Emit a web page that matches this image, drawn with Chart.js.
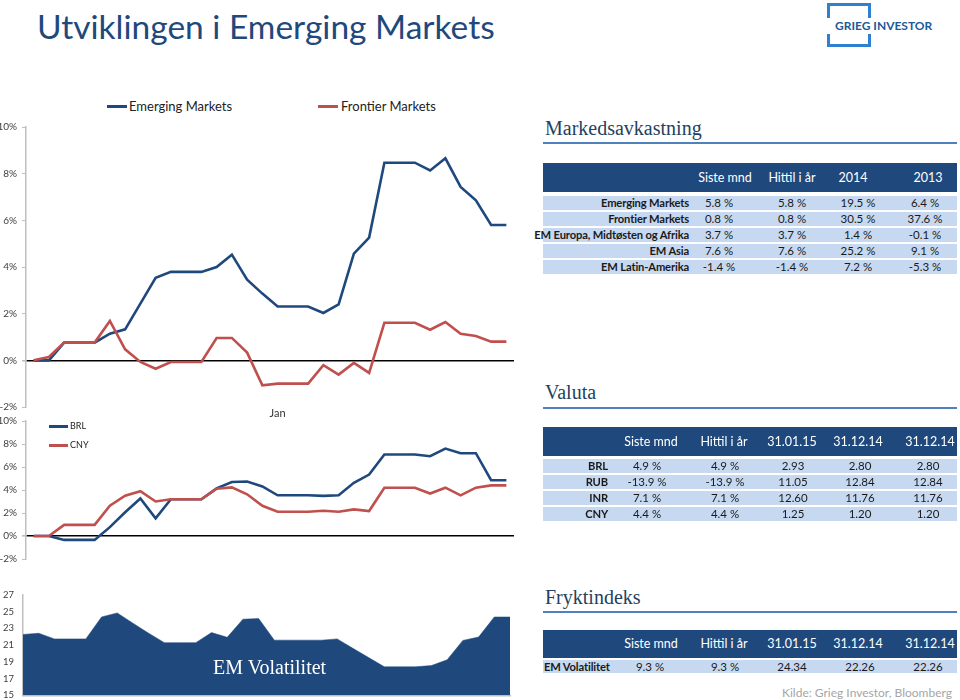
<!DOCTYPE html>
<html lang="no">
<head>
<meta charset="utf-8">
<script src="https://cdn.jsdelivr.net/npm/chart.js@4.4.1/dist/chart.umd.min.js"></script>
<style>
  html, body { margin: 0; padding: 0; background: #fff; }
  body { width: 960px; height: 700px; overflow: hidden; position: relative; font-family: Lato, 'Open Sans', sans-serif; color: #1a1a1a; }
  .abs { position: absolute; white-space: nowrap; }
  canvas { position: absolute; left: 0; }
  #tittel { left: 37px; top: 5px; font-size: 33.5px; color: #1f497d; line-height: 42px; }
  .overskrift { font-family: 'Liberation Serif', 'DejaVu Serif', serif; font-size: 20px; color: #243f60; line-height: 24px; left: 545px; }
  .strek { left: 543px; width: 414px; height: 2px; background: #4f81bd; }
  .hode { left: 543px; width: 414px; background: #1f497d; }
  .rad { left: 543px; width: 414px; background: #c6d9f1; }
  .celle { width: 100px; text-align: center; font-size: 11.5px; }
  .hodecelle { color: #fff; font-size: 12.5px; }
  .etikett { font-weight: bold; font-size: 11.2px; letter-spacing: -0.15px; text-align: right; width: 160px; }
  .leg-strek { height: 3px; }
</style>
</head>
<body>
<div id="tittel" class="abs">Utviklingen i Emerging Markets</div>

<!-- logo -->
<div class="abs" style="left:827px;top:3px;width:38px;height:38px;border:3px solid #2f80d0;"></div>
<div class="abs" style="left:827px;top:18px;padding:0 3px 0 8px;background:#fff;font-weight:bold;font-size:12px;line-height:16px;color:#1c5a98;">GRIEG INVESTOR</div>

<canvas id="grafMarked" width="520" height="305" style="top:116px"></canvas>
<canvas id="grafValuta" width="520" height="160" style="top:410px"></canvas>
<canvas id="grafVol" width="520" height="130" style="top:580px"></canvas>

<div id="tekster"></div>

<script>
// ── Data (31.12.14 – 31.01.15, daglig) ─────────────────────────
const dager = ['31.12','01.01','02.01','03.01','04.01','05.01','06.01','07.01','08.01','09.01',
  '10.01','11.01','12.01','13.01','14.01','15.01','16.01','17.01','18.01','19.01','20.01',
  '21.01','22.01','23.01','24.01','25.01','26.01','27.01','28.01','29.01','30.01','31.01'];
const maanedEtikett = 'Jan';
const maanedIndeks = 16;

const emergingMarkets = [0, 0, 0.76, 0.76, 0.76, 1.14, 1.33, 2.43, 3.54, 3.79, 3.79, 3.79, 4.0, 4.53, 3.46, 2.86,
  2.31, 2.31, 2.31, 2.03, 2.4, 4.57, 5.26, 8.47, 8.47, 8.47, 8.14, 8.66, 7.43, 6.86, 5.8, 5.8];
const frontierMarkets = [0, 0.14, 0.76, 0.76, 0.76, 1.69, 0.47, -0.07, -0.36, -0.07, -0.07, -0.07, 0.96, 0.96, 0.33, -1.07,
  -1.0, -1.0, -1.0, -0.21, -0.61, -0.11, -0.54, 1.61, 1.61, 1.61, 1.31, 1.64, 1.14, 1.04, 0.8, 0.8];

const brl = [0, 0, -0.34, -0.34, -0.34, 0.77, 2.06, 3.26, 1.54, 3.2, 3.2, 3.2, 4.14, 4.69, 4.74, 4.31,
  3.54, 3.54, 3.54, 3.49, 3.54, 4.63, 5.34, 7.09, 7.09, 7.09, 6.94, 7.6, 7.2, 7.2, 4.85, 4.85];
const cny = [0, 0, 0.97, 0.97, 0.97, 2.63, 3.51, 3.89, 3.0, 3.2, 3.2, 3.2, 4.11, 4.23, 3.63, 2.63,
  2.11, 2.11, 2.11, 2.2, 2.11, 2.31, 2.17, 4.2, 4.2, 4.2, 3.69, 4.2, 3.54, 4.2, 4.4, 4.4];

const emVolatilitet = [22.26, 22.4, 21.73, 21.73, 21.73, 24.35, 24.83, 23.6, 22.4, 21.28, 21.28, 21.28, 22.48, 21.92, 24.08, 24.15,
  21.58, 21.58, 21.58, 21.58, 21.73, 20.6, 19.5, 18.4, 18.4, 18.4, 18.55, 19.23, 21.55, 21.95, 24.34, 24.34];

const pstTicks = [-2, 10, 2];   // min, max, steg
const volTicks = [15, 27, 2];

// ── Tabeller ──
const markedKolonner = ['Siste mnd', 'Hittil i år', '2014', '2013'];
const markedRader = ['Emerging Markets', 'Frontier Markets', 'EM Europa, Midtøsten og Afrika', 'EM Asia', 'EM Latin-Amerika'];
const markedVerdier = [
  ['5.8 %', '5.8 %', '19.5 %', '6.4 %'],
  ['0.8 %', '0.8 %', '30.5 %', '37.6 %'],
  ['3.7 %', '3.7 %', '1.4 %', '-0.1 %'],
  ['7.6 %', '7.6 %', '25.2 %', '9.1 %'],
  ['-1.4 %', '-1.4 %', '7.2 %', '-5.3 %'],
];
const valutaKolonner = ['Siste mnd', 'Hittil i år', '31.01.15', '31.12.14', '31.12.14'];
const valutaRader = ['BRL', 'RUB', 'INR', 'CNY'];
const valutaVerdier = [
  ['4.9 %', '4.9 %', '2.93', '2.80', '2.80'],
  ['-13.9 %', '-13.9 %', '11.05', '12.84', '12.84'],
  ['7.1 %', '7.1 %', '12.60', '11.76', '11.76'],
  ['4.4 %', '4.4 %', '1.25', '1.20', '1.20'],
];
const fryktRader = ['EM Volatilitet'];
const fryktVerdier = [['9.3 %', '9.3 %', '24.34', '22.26', '22.26']];

const BLA = '#1F497D', ROD = '#C0504D', GRA = '#bfbfbf';

Chart.defaults.font.family = 'Lato';
Chart.defaults.animation = false;

// ── Tekst-elementer (overskrifter, tabeller, legender) ──────────
const wrap = document.getElementById('tekster');
function div(cls, style, txt) {
  const d = document.createElement('div');
  d.className = 'abs ' + cls;
  d.setAttribute('style', style);
  if (txt != null) d.textContent = txt;
  wrap.appendChild(d);
  return d;
}

function seksjon(tittel, y, kol, rader, verdier, oppsett) {
  div('overskrift', `top:${y.tittel - 12}px`, tittel);
  div('strek', `top:${y.strek}px`);
  div('hode', `top:${y.hode}px;height:${y.hodeH}px`);
  kol.forEach((k, i) => div('celle hodecelle',
    `left:${oppsett.hodeX[i] - 50}px;top:${y.hode}px;height:${y.hodeH}px;line-height:${y.hodeH}px`, k));
  rader.forEach((r, ri) => {
    const top = y.rad0 + ri * y.radSteg;
    div('rad', `top:${top}px;height:${y.radH}px`);
    if (oppsett.venstre) div('etikett', `left:544px;text-align:left;top:${top}px;line-height:${y.radH}px`, r);
    else div('etikett', `left:${oppsett.etikettH - 160}px;top:${top}px;line-height:${y.radH}px`, r);
    verdier[ri].forEach((v, ci) => div('celle',
      `left:${oppsett.verdiX[ci] - 50}px;top:${top}px;line-height:${y.radH}px`, v));
  });
}

seksjon('Markedsavkastning', { tittel: 128, strek: 142, hode: 163, hodeH: 29, rad0: 195.5, radSteg: 16, radH: 14 },
  markedKolonner, markedRader, markedVerdier,
  { hodeX: [725, 792, 853, 928], verdiX: [719, 792, 858, 925], etikettH: 689 });
seksjon('Valuta', { tittel: 392, strek: 407, hode: 427, hodeH: 29, rad0: 458.5, radSteg: 16.1, radH: 14.5 },
  valutaKolonner, valutaRader, valutaVerdier,
  { hodeX: [651, 724, 792, 858, 930], verdiX: [647, 725, 793, 860, 928], etikettH: 608 });
seksjon('Fryktindeks', { tittel: 597, strek: 611, hode: 629.5, hodeH: 28, rad0: 659.5, radSteg: 16, radH: 13.5 },
  valutaKolonner, fryktRader, fryktVerdier,
  { hodeX: [651, 724, 792, 858, 930], verdiX: [650, 725, 792, 860, 928], venstre: true });

div('', 'left:782px;top:685px;font-size:12px;color:#a6a6a6;line-height:16px', 'Kilde: Grieg Investor, Bloomberg');

// legender
div('leg-strek', `left:107px;top:104.5px;width:20px;background:${BLA}`);
div('', 'left:129px;top:98px;font-size:13px;line-height:16px;color:#222', 'Emerging Markets');
div('leg-strek', `left:318px;top:104.5px;width:20px;background:${ROD}`);
div('', 'left:341px;top:98px;font-size:13px;line-height:16px;color:#222', 'Frontier Markets');
div('leg-strek', `left:49px;top:424.5px;width:19px;background:${BLA}`);
div('', 'left:70px;top:420px;font-size:9px;line-height:12px;color:#222', 'BRL');
div('leg-strek', `left:49px;top:443.5px;width:19px;background:${ROD}`);
div('', 'left:70px;top:439px;font-size:9px;line-height:12px;color:#222', 'CNY');

// ── Grafer ──────────────────────────────────────────────────────
function pstAkse() {
  return {
    min: pstTicks[0], max: pstTicks[1],
    afterFit: s => { s.width = 26; },
    border: { color: GRA, width: 1.5 },
    grid: {
      color: c => c.tick && c.tick.value === 0 ? '#000' : 'rgba(0,0,0,0)',
      lineWidth: c => c.tick && c.tick.value === 0 ? 1.6 : 1,
      tickColor: GRA, tickLength: 4,
    },
    ticks: { stepSize: pstTicks[2], padding: 5, color: '#404040', font: { size: 10 }, callback: v => v + '%' },
  };
}

function linje(label, data, farge, order) {
  return { label, data, borderColor: farge, backgroundColor: farge, borderWidth: 2.6,
    pointRadius: 0, tension: 0, order };
}

new Chart(document.getElementById('grafMarked'), {
  type: 'line',
  data: {
    labels: dager,
    datasets: [
      linje('Emerging Markets', emergingMarkets, BLA, 1),
      linje('Frontier Markets', frontierMarkets, ROD, 0),
    ]
  },
  options: {
    responsive: false,
    layout: { padding: { top: 10, right: 6, bottom: 0, left: 0 } },
    plugins: { legend: { display: false }, tooltip: { enabled: false } },
    scales: {
      x: {
        offset: true,
        afterFit: s => { s.height = 14; },
        grid: { display: false, drawTicks: false },
        border: { display: false },
        ticks: { autoSkip: false, maxRotation: 0, padding: 0, color: '#333', font: { size: 11 },
          callback: (v, i) => i === maanedIndeks ? maanedEtikett : '' },
      },
      y: pstAkse(),
    }
  }
});

new Chart(document.getElementById('grafValuta'), {
  type: 'line',
  data: {
    labels: dager,
    datasets: [
      linje('BRL', brl, BLA, 1),
      linje('CNY', cny, ROD, 0),
    ]
  },
  options: {
    responsive: false,
    layout: { padding: { top: 10, right: 6, bottom: 10, left: 0 } },
    plugins: { legend: { display: false }, tooltip: { enabled: false } },
    scales: {
      x: { offset: true, display: false },
      y: pstAkse(),
    }
  }
});

new Chart(document.getElementById('grafVol'), {
  type: 'line',
  data: {
    labels: dager,
    datasets: [{
      label: 'EM Volatilitet', data: emVolatilitet, fill: 'start',
      backgroundColor: BLA, borderColor: BLA, borderWidth: 0.5, pointRadius: 0, tension: 0,
    }]
  },
  options: {
    responsive: false,
    layout: { padding: { top: 11, right: 10, bottom: 12, left: 0 } },
    plugins: { legend: { display: false }, tooltip: { enabled: false } },
    scales: {
      x: {
        offset: false,
        afterFit: s => { s.height = 0; },
        grid: { display: false, drawTicks: false },
        border: { color: GRA, width: 1.5 },
        ticks: { display: false },
      },
      y: {
        min: volTicks[0], max: volTicks[1],
        afterFit: s => { s.width = 23; },
        grid: { display: false, drawTicks: false },
        border: { color: GRA, width: 1.5 },
        ticks: { stepSize: volTicks[2], padding: 9, color: '#404040', font: { size: 9.5 } },
      }
    }
  }
});

div('', "left:213px;top:655px;width:110px;text-align:center;font-family:'Liberation Serif','DejaVu Serif',serif;font-size:20px;line-height:24px;color:#fff", 'EM Volatilitet');
</script>
</body>
</html>
